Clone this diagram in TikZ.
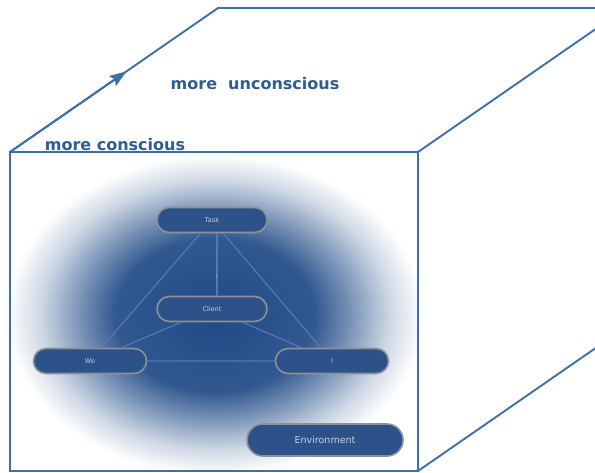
\documentclass[tikz,border=0pt]{standalone}
\usepackage{fontspec}
\setmainfont{DejaVu Sans}
\usetikzlibrary{shapes.misc,arrows.meta,calc}

\definecolor{cubeblue}{HTML}{3F6FA8}
\definecolor{labelblue}{HTML}{2E5D93}
\definecolor{glowdark}{HTML}{1F4A86}
\definecolor{pillfill}{HTML}{2D5189}
\definecolor{pillrim}{HTML}{8C9098}
\definecolor{pilltext}{HTML}{C4D2E4}
\definecolor{linkblue}{HTML}{5578AE}

\pgfdeclareradialshading{glow}{\pgfpoint{0bp}{0bp}}{color(0bp)=(glowdark); color(6bp)=(glowdark!92!white); color(8bp)=(glowdark!62!white); color(10.5bp)=(glowdark!22!white); color(12.5bp)=(white); color(50bp)=(white)}

\tikzset{
  pill/.style={rounded rectangle, draw=pillrim, line width=1.6pt, fill=pillfill, text=pilltext,
    minimum width=112pt, minimum height=25pt, inner sep=1pt, font=\fontsize{6.5}{7}\selectfont},
  link/.style={draw=linkblue, line width=1.2pt},
  edgeface/.style={draw=cubeblue, line width=1.9pt},
  sidetext/.style={text=labelblue, font=\bfseries\fontsize{16}{18}\selectfont}
}

\begin{document}
\begin{tikzpicture}[x=1pt, y=-1pt]

\useasboundingbox (0,0) rectangle (595,472);
\clip (0,0) rectangle (595,472);

% Define the corners of the cube
\coordinate (FTL) at (10,152);
\coordinate (FTR) at (418,152);
\coordinate (FBL) at (10,471);
\coordinate (FBR) at (418,471);
\coordinate (BTL) at (218,8);
\coordinate (BTR) at (626,8);
\coordinate (BBR) at (626,327);

% Glow on the front face
\begin{scope}
  \clip (FTL) rectangle (FBR);
  \fill[shading=glow] (215,315) ellipse [x radius=416, y radius=320];
\end{scope}

% Draw edges of the cube
\draw[edgeface] (FTL) rectangle (FBR);
\draw[edgeface] (FTL) -- (BTL) -- (BTR) -- (FTR);
\draw[edgeface] (BTR) -- (BBR) -- (FBR);
\draw[edgeface, -{Stealth[length=17pt, width=12pt, inset=3pt]}] (FTL) -- ($(FTL)!0.56!(BTL)$);

% Labels of the two faces
\node[sidetext] (uncons) at (255,84) {more\ \ unconscious};
\node[sidetext] (cons) at (115,145) {more conscious};

% Place the elements
\node[pill] (task) at (212,220) {Task};
\node[pill] (client) at (212,309) {Client};
\node[pill, minimum width=115pt] (we) at (90,361) {We};
\node[pill, minimum width=115pt] (i) at (332,361) {I};
\node[pill, minimum width=158pt, minimum height=32pt, font=\fontsize{9.5}{11}\selectfont] (env) at (325,440) {Environment};

% Links between the elements
\draw[link] (task) -- (we);
\draw[link] (task) -- (i);
\draw[link] (we) -- (i);
\draw[link] (client) -- (we);
\draw[link] (client) -- (i);
\draw[link] ([xshift=5pt]task.south) -- node[pos=0.7, text=pilltext, font=\fontsize{4}{5}\selectfont] {I} ([xshift=5pt]client.north);

\end{tikzpicture}
\end{document}
